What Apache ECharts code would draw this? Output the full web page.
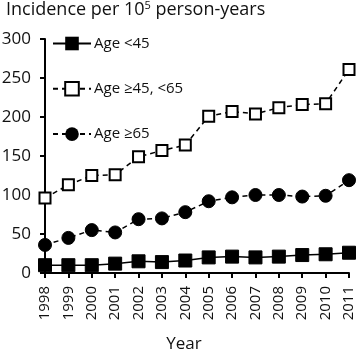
<!DOCTYPE html>
<html>
<head>
<meta charset="utf-8">
<script src="https://cdn.jsdelivr.net/npm/echarts@6/dist/echarts.min.js"></script>
<style>
html, body { margin: 0; padding: 0; background: #fff; }
#main { width: 358px; height: 354px; }
</style>
</head>
<body>
<div id="main"></div>
<script>
// data
var years = ['1998', '1999', '2000', '2001', '2002', '2003', '2004', '2005', '2006', '2007', '2008', '2009', '2010', '2011'];
var ageUnder45 = [10, 10, 10, 12, 15, 14, 16, 20, 21, 20, 21, 23, 24, 26];
var age45to65 = [96, 113, 125, 126, 149, 157, 164, 201, 207, 204, 212, 216, 217, 261];
var age65plus = [36, 45, 55, 52, 69, 70, 78, 92, 97, 100, 100, 98, 99, 119];
var yTicks = [0, 50, 100, 150, 200, 250, 300];

var font = 'Open Sans';
var chart = echarts.init(document.getElementById('main'));

chart.setOption({
    animation: false,
    backgroundColor: '#fff',
    title: {
        text: 'Incidence per 10{sup|5} person-years',
        left: 6, top: 0, padding: [0, 0, 0, 0],
        textStyle: {
            fontFamily: font, fontSize: 18, fontWeight: 'normal', color: '#111',
            rich: { sup: { fontFamily: font, fontSize: 11, verticalAlign: 'top', padding: [0, 0, 9, 0], color: '#111' } }
        }
    },
    legend: {
        orient: 'vertical',
        left: 52, top: 36, padding: 0,
        itemWidth: 38, itemHeight: 17,
        itemGap: 30,
        textStyle: { fontFamily: font, fontSize: 15, color: '#111', padding: [0, 0, 0, -2] },
        data: ['Age <45', 'Age ≥45, <65', 'Age ≥65']
    },
    grid: { left: 45, right: 9, top: 39, bottom: 81, containLabel: false, outerBoundsMode: 'none' },
    xAxis: {
        type: 'category',
        data: years,
        boundaryGap: false,
        name: 'Year',
        nameLocation: 'middle',
        nameGap: 63,
        nameMoveOverlap: false,
        nameTextStyle: { fontFamily: font, fontSize: 17, color: '#111', padding: [0, 26, 0, 0] },
        axisLine: { lineStyle: { color: '#000', width: 2 } },
        axisTick: { show: true, alignWithLabel: true, length: 5, lineStyle: { color: '#000', width: 2 } },
        axisLabel: { rotate: 90, fontFamily: font, fontSize: 15, color: '#111', margin: 13, interval: 0 }
    },
    yAxis: {
        type: 'value',
        min: yTicks[0], max: yTicks[yTicks.length - 1], interval: 50,
        splitLine: { show: false },
        axisLine: { show: true, lineStyle: { color: '#000', width: 2 } },
        axisTick: { show: true, length: 5, lineStyle: { color: '#000', width: 2 } },
        axisLabel: { fontFamily: font, fontSize: 17, color: '#111', margin: 14 }
    },
    series: [
        {
            name: 'Age <45', type: 'line', data: ageUnder45,
            symbol: 'rect', symbolSize: 13,
            itemStyle: { color: '#000', borderColor: '#000' },
            lineStyle: { color: '#000', width: 1.5, type: 'solid' },
            z: 3
        },
        {
            name: 'Age ≥45, <65', type: 'line', data: age45to65,
            symbol: 'rect', symbolSize: 11,
            itemStyle: { color: '#fff', borderColor: '#000', borderWidth: 2 },
            lineStyle: { color: '#000', width: 1.5, type: [5, 4] },
            z: 3
        },
        {
            name: 'Age ≥65', type: 'line', data: age65plus,
            symbol: 'circle', symbolSize: 13,
            itemStyle: { color: '#000', borderColor: '#000' },
            lineStyle: { color: '#000', width: 1.5, type: [5, 4] },
            z: 3
        }
    ]
});
</script>
</body>
</html>
